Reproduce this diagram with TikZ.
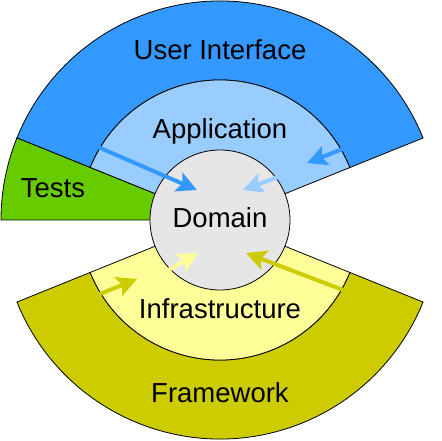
\documentclass[tikz,border=0pt]{standalone}
\usepackage{fontspec}
\setmainfont{Liberation Sans}
\usetikzlibrary{arrows.meta}
\definecolor{uiblue}{HTML}{3399FF}
\definecolor{appblue}{HTML}{99CCFF}
\definecolor{testgreen}{HTML}{66CC00}
\definecolor{domgray}{HTML}{E6E6E6}
\definecolor{infyellow}{HTML}{FFFF99}
\definecolor{fwolive}{HTML}{CCCC00}
\tikzset{
  region/.style={draw=black, line width=0.8pt},
  lbl/.style={anchor=base, inner sep=0pt, font=\fontsize{27.5}{33}\selectfont},
  dep/.style={line width=4pt, -{Stealth[length=20pt, width=20pt, inset=4pt]}}
}
\begin{document}
\begin{tikzpicture}[x=1pt, y=1pt]
\useasboundingbox (-220,-221) rectangle (221,220);
% regions
\path[region, fill=uiblue] (22:219) arc[start angle=22, end angle=158, radius=219] -- (158:140) arc[start angle=158, end angle=22, radius=140] -- cycle;
\path[region, fill=appblue] (22:140) arc[start angle=22, end angle=158, radius=140] -- (0,0) -- cycle;
\path[region, fill=testgreen] (158:219) arc[start angle=158, end angle=180, radius=219] -- (0,0) -- cycle;
\path[region, fill=fwolive] (202:219) arc[start angle=202, end angle=338, radius=219] -- (338:140) arc[start angle=338, end angle=202, radius=140] -- cycle;
\path[region, fill=infyellow] (202:140) arc[start angle=202, end angle=338, radius=140] -- (0,0) -- cycle;
\node[region, fill=domgray, circle, minimum size=140pt, inner sep=0pt] (dom) at (0,0) {};
% labels
\node[lbl] (ui) at (0,160) {User Interface};
\node[lbl] (app) at (0,81) {Application};
\node[lbl] (tests) at (-167,22) {Tests};
\node[lbl] (domain) at (0,-8) {Domain};
\node[lbl] (infra) at (0,-98) {Infrastructure};
\node[lbl] (fw) at (0,-182) {Framework};
% arrows
\coordinate (a1s) at (-122,73); \coordinate (a1e) at (-23,30);
\coordinate (a2s) at (125,72);  \coordinate (a2e) at (87,57);
\coordinate (a3s) at (69,47);   \coordinate (a3e) at (23,30);
\coordinate (a4s) at (-55,-52); \coordinate (a4e) at (-22,-33);
\coordinate (a5s) at (-120,-74);\coordinate (a5e) at (-83,-59);
\coordinate (a6s) at (123,-70); \coordinate (a6e) at (26,-33);
\draw[dep, uiblue] (a1s) -- (a1e);
\draw[dep, uiblue] (a2s) -- (a2e);
\draw[dep, appblue] (a3s) -- (a3e);
\draw[dep, infyellow] (a4s) -- (a4e);
\draw[dep, fwolive] (a5s) -- (a5e);
\draw[dep, fwolive] (a6s) -- (a6e);
\end{tikzpicture}
\end{document}
